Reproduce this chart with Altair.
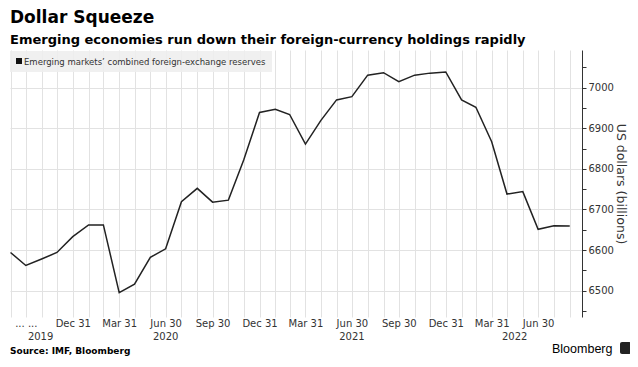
import altair as alt
import pandas as pd

# ---- data (monthly, end of month) ----
start_month = "2019-08-31"
end_month = "2022-08-31"
reserves = [6594, 6562, 6578, 6594, 6633, 6662, 6662, 6495, 6516, 6582,
            6603, 6719, 6752, 6718, 6723, 6822, 6939, 6947, 6934, 6861,
            6919, 6970, 6978, 7031, 7037, 7015, 7031, 7036, 7039, 6970,
            6952, 6867, 6738, 6744, 6651, 6660, 6659]
year_labels = ["2019", "2020", "2021", "2022"]
year_label_dates = ["2019-10-29", "2020-06-30", "2021-06-30", "2022-05-15"]
y_ticks = list(range(6450, 7051, 50))
x_domain = ["2019-08-30", "2022-09-24"]
y_domain = [6435, 7093]

try:
    months = pd.date_range(start_month, end_month, freq="ME")
except Exception:
    months = pd.date_range(start_month, end_month, freq="M")
month_str = [d.strftime("%Y-%m-%d") for d in months]


def dt(s):
    t = pd.Timestamp(s)
    return alt.DateTime(year=t.year, month=t.month, date=t.day, utc=True)


df = pd.DataFrame({"date": month_str, "value": reserves})
ydf = pd.DataFrame({"date": year_label_dates, "label": year_labels})
one = pd.DataFrame({"k": [0]})

W, H = 572, 267
FONT = "DejaVu Sans"
GRID = "#e2e2e2"

xscale = alt.Scale(type="utc", domain=[dt(d) for d in x_domain], nice=False)

x_axis = alt.Axis(
    values=[dt(d) for d in month_str],
    labelExpr=("utcmonth(datum.value) % 3 == 2 ? "
               "((utcyear(datum.value) == 2019 && utcmonth(datum.value) == 8) ? '... ...' "
               ": utcFormat(datum.value, '%b %d')) : ''"),
    labelOverlap=False, labelFlush=False, labelBound=False,
    labelFont=FONT, labelFontSize=10, labelColor="#333333", labelPadding=1,
    ticks=False, domain=False, grid=True, gridColor=GRID, gridWidth=1,
    title=None,
)

y_axis = alt.Axis(
    orient="right", values=y_ticks, format="d",
    labelExpr="datum.value % 100 == 0 ? datum.label : ''",
    labelFont=FONT, labelFontSize=10, labelColor="#333333", labelPadding=2,
    tickSize=4, tickColor="#333333", domainColor="#333333", domainWidth=1,
    grid=True, gridColor=GRID,
    gridOpacity={"condition": {"test": "datum.value % 100 != 0", "value": 0}, "value": 1},
    title="US dollars (billions)", titleFont=FONT, titleFontSize=12.5,
    titleFontWeight="normal", titleColor="#333333", titlePadding=0,
)

line = alt.Chart(df).mark_line(color="#222222", strokeWidth=1.5).encode(
    x=alt.X("date:T", scale=xscale, axis=x_axis),
    y=alt.Y("value:Q", scale=alt.Scale(domain=y_domain, nice=False, zero=False), axis=y_axis),
)

years = alt.Chart(ydf).mark_text(font=FONT, fontSize=10, color="#333333",
                                 baseline="middle", align="center").encode(
    x=alt.X("date:T", scale=xscale, axis=x_axis),
    y=alt.value(H + 20),
    text="label:N",
)

legend_box = alt.Chart(one).mark_rect(color="#eeeeee", opacity=0.9).encode(
    x=alt.value(0), x2=alt.value(262), y=alt.value(1), y2=alt.value(22))
legend_sq = alt.Chart(one).mark_rect(color="#111111").encode(
    x=alt.value(6), x2=alt.value(12), y=alt.value(8), y2=alt.value(14))
legend_txt = alt.Chart(one).mark_text(font=FONT, fontSize=8.5, color="#333333",
                                      align="left", baseline="alphabetic").encode(
    x=alt.value(14), y=alt.value(14.5),
    text=alt.value("Emerging markets\u2019 combined foreign-exchange reserves"))

title = alt.Chart(one).mark_text(font=FONT, fontSize=17, fontWeight="bold", color="#000000",
                                 align="left", baseline="alphabetic").encode(
    x=alt.value(0), y=alt.value(-27), text=alt.value("Dollar Squeeze"))
subtitle = alt.Chart(one).mark_text(font=FONT, fontSize=13, fontWeight="bold", color="#000000",
                                    align="left", baseline="alphabetic").encode(
    x=alt.value(0), y=alt.value(-6),
    text=alt.value("Emerging economies run down their foreign-currency holdings rapidly"))
source = alt.Chart(one).mark_text(font=FONT, fontSize=9, fontWeight="bold", color="#000000",
                                  align="left", baseline="alphabetic").encode(
    x=alt.value(0), y=alt.value(303.5), text=alt.value("Source: IMF, Bloomberg"))
brand = alt.Chart(one).mark_text(font="Liberation Sans", fontSize=12.5, fontWeight=500,
                                 color="#000000", align="left", baseline="alphabetic").encode(
    x=alt.value(542), y=alt.value(303), text=alt.value("Bloomberg"))
brand_icon = alt.Chart(one).mark_rect(color="#222222", cornerRadius=2).encode(
    x=alt.value(610), x2=alt.value(621), y=alt.value(292), y2=alt.value(304))

chart = alt.layer(
    line, years, legend_box, legend_sq, legend_txt,
    title, subtitle, source, brand, brand_icon,
).properties(
    width=W, height=H,
    autosize=alt.AutoSizeParams(type="none"),
    padding={"left": 2, "top": 42, "right": 48, "bottom": 40},
    background="white",
).configure_view(stroke=None)

chart.save("out.html", embed_options={"renderer": "svg", "actions": False})
